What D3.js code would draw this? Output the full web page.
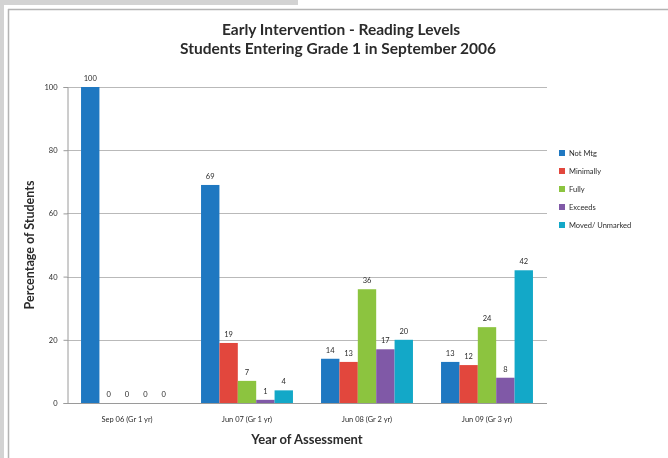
<!DOCTYPE html>
<html>
<head>
<meta charset="utf-8">
<script src="https://cdn.jsdelivr.net/npm/d3@7"></script>
<style>
  html, body { margin: 0; padding: 0; background: #ffffff; }
  svg { display: block; will-change: transform; }
  text { font-family: Lato, "Open Sans", sans-serif; }
</style>
</head>
<body>
<svg id="chart" width="668" height="458"></svg>
<script>
// Assessment points (x categories)
const categories = ["Sep 06 (Gr 1 yr)", "Jun 07 (Gr 1 yr)", "Jun 08 (Gr 2 yr)", "Jun 09 (Gr 3 yr)"];
// Reading level series
const seriesNames = ["Not Mtg", "Minimally", "Fully", "Exceeds", "Moved/ Unmarked"];
const seriesColors = ["#1f78c1", "#e2473d", "#8cc43f", "#8059a7", "#13a8c8"];
// Percentage of students per series, one value per category
const notMtg    = [100, 69, 14, 13];
const minimally = [0, 19, 13, 12];
const fully     = [0, 7, 36, 24];
const exceeds   = [0, 1, 17, 8];
const moved     = [0, 4, 20, 42];
const yTicks = [0, 20, 40, 60, 80, 100];

const seriesValues = [notMtg, minimally, fully, exceeds, moved];
const ink = "#2b2b2b";

const svg = d3.select("#chart");

// page frame: grey strips and the thin chart border
svg.append("rect").attr("x", 0).attr("y", 0).attr("width", 298).attr("height", 5).attr("fill", "#d3d3d3");
svg.append("rect").attr("x", 0).attr("y", 0).attr("width", 4).attr("height", 458).attr("fill", "#d3d3d3");
svg.append("line").attr("x1", 8).attr("x2", 668).attr("y1", 9.5).attr("y2", 9.5).attr("stroke", "#b4b4b4").attr("stroke-width", 1.5);
svg.append("line").attr("x1", 8.5).attr("x2", 8.5).attr("y1", 9).attr("y2", 458).attr("stroke", "#b4b4b4").attr("stroke-width", 1.5);

const plot = { left: 67, right: 547, top: 87, bottom: 403 };

const x0 = d3.scaleBand().domain(categories).range([plot.left, plot.right]).paddingInner(0.234).paddingOuter(0.117);
const x1 = d3.scaleBand().domain(seriesNames).range([0, x0.bandwidth()]);
const y = d3.scaleLinear().domain([0, 100]).range([plot.bottom, plot.top]);

// horizontal gridlines
svg.append("g").selectAll("line").data(yTicks.filter(t => t > 0)).join("line")
  .attr("x1", plot.left).attr("x2", plot.right)
  .attr("y1", d => Math.round(y(d)) + 0.5).attr("y2", d => Math.round(y(d)) + 0.5)
  .attr("stroke", "#b9b9b9").attr("stroke-width", 1);

// y axis
const yAxis = svg.append("g").attr("transform", `translate(${plot.left + 0.5},0)`)
  .call(d3.axisLeft(y).tickValues(yTicks).tickSize(4).tickPadding(6));
yAxis.select(".domain").attr("stroke", "#9a9a9a");
yAxis.selectAll(".tick line").attr("stroke", "#9a9a9a");
yAxis.selectAll(".tick text").attr("font-size", 7.5).attr("fill", ink).style("font-family", "Lato, sans-serif");

// bars
const groups = svg.append("g").selectAll("g").data(categories).join("g")
  .attr("transform", d => `translate(${x0(d)},0)`);

groups.selectAll("rect")
  .data((c, ci) => seriesNames.map((s, si) => ({ s, si, v: seriesValues[si][ci] })))
  .join("rect")
  .attr("x", d => x1(d.s))
  .attr("width", x1.bandwidth())
  .attr("y", d => y(d.v))
  .attr("height", d => y(0) - y(d.v))
  .attr("fill", d => seriesColors[d.si]);

// value labels
groups.selectAll("text.val")
  .data((c, ci) => seriesNames.map((s, si) => ({ s, si, v: seriesValues[si][ci] })))
  .join("text")
  .attr("class", "val")
  .attr("x", d => x1(d.s) + x1.bandwidth() / 2)
  .attr("y", d => y(d.v) - 6)
  .attr("text-anchor", "middle")
  .attr("font-size", 7.5)
  .attr("fill", ink)
  .text(d => d.v);

// x axis baseline
svg.append("line").attr("x1", plot.left).attr("x2", plot.right)
  .attr("y1", plot.bottom + 0.5).attr("y2", plot.bottom + 0.5)
  .attr("stroke", "#9a9a9a");

// x axis labels
svg.append("g").selectAll("text").data(categories).join("text")
  .attr("x", d => x0(d) + x0.bandwidth() / 2)
  .attr("y", 422)
  .attr("text-anchor", "middle")
  .attr("font-size", 7.5)
  .attr("fill", ink)
  .text(d => d);

// axis titles
svg.append("text").attr("x", 307).attr("y", 444).attr("text-anchor", "middle")
  .attr("font-size", 13).attr("font-weight", "bold").attr("fill", ink).text("Year of Assessment");
svg.append("text").attr("transform", "translate(34,245) rotate(-90)").attr("text-anchor", "middle")
  .attr("font-size", 12.5).attr("font-weight", "bold").attr("fill", ink).text("Percentage of Students");

// chart title
svg.append("text").attr("x", 341).attr("y", 35).attr("text-anchor", "middle")
  .attr("font-size", 15.5).attr("font-weight", "bold").attr("fill", ink).text("Early Intervention - Reading Levels");
svg.append("text").attr("x", 338).attr("y", 54).attr("text-anchor", "middle")
  .attr("font-size", 15.5).attr("font-weight", "bold").attr("fill", ink).text("Students Entering Grade 1 in September 2006");

// legend
const legend = svg.append("g").selectAll("g").data(seriesNames).join("g")
  .attr("transform", (d, i) => `translate(559,${153 + i * 18})`);
legend.append("rect").attr("x", 0).attr("y", -3).attr("width", 6).attr("height", 6)
  .attr("fill", (d, i) => seriesColors[i]);
legend.append("text").attr("x", 10).attr("y", 3).attr("font-size", 7.5).attr("fill", ink).text(d => d);
</script>
</body>
</html>
